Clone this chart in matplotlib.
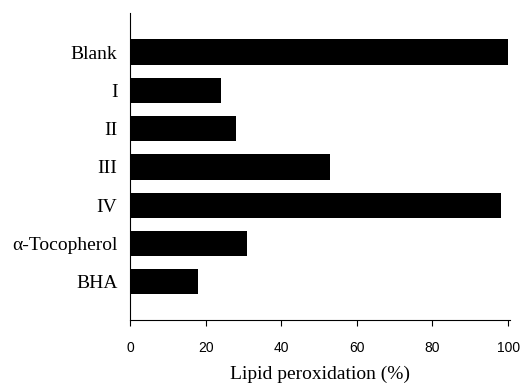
import matplotlib.pyplot as plt
import numpy as np

labels = ["Blank", "I", "II", "III", "IV", "\u03b1-Tocopherol", "BHA"]
values = [100, 24, 28, 53, 98, 31, 18]
xticks = [0, 20, 40, 60, 80, 100]

fig = plt.figure(figsize=(5.27, 3.83), dpi=100)
ax = fig.add_axes([0.2467, 0.1645, 0.7210, 0.8015])

pos = np.arange(len(labels))[::-1]
ax.barh(pos, values, height=0.66, color="black")

ax.set_xlim(0, 100.5)
ax.set_ylim(-1, 7.02)
ax.set_yticks(pos)
ax.set_yticklabels(labels, family="Liberation Serif", fontsize=14)
ax.tick_params(axis="y", length=0, pad=9)
ax.set_xticks(xticks)
ax.set_xticklabels([str(t) for t in xticks], family="Liberation Sans", fontsize=10)
ax.tick_params(axis="x", length=4, width=0.8, pad=11)
ax.set_xlabel("Lipid peroxidation (%)", family="Liberation Serif", fontsize=14, labelpad=8)

for s in ["top", "right"]:
    ax.spines[s].set_visible(False)
for s in ["left", "bottom"]:
    ax.spines[s].set_linewidth(0.8)

fig.savefig("out.png", dpi=100)
